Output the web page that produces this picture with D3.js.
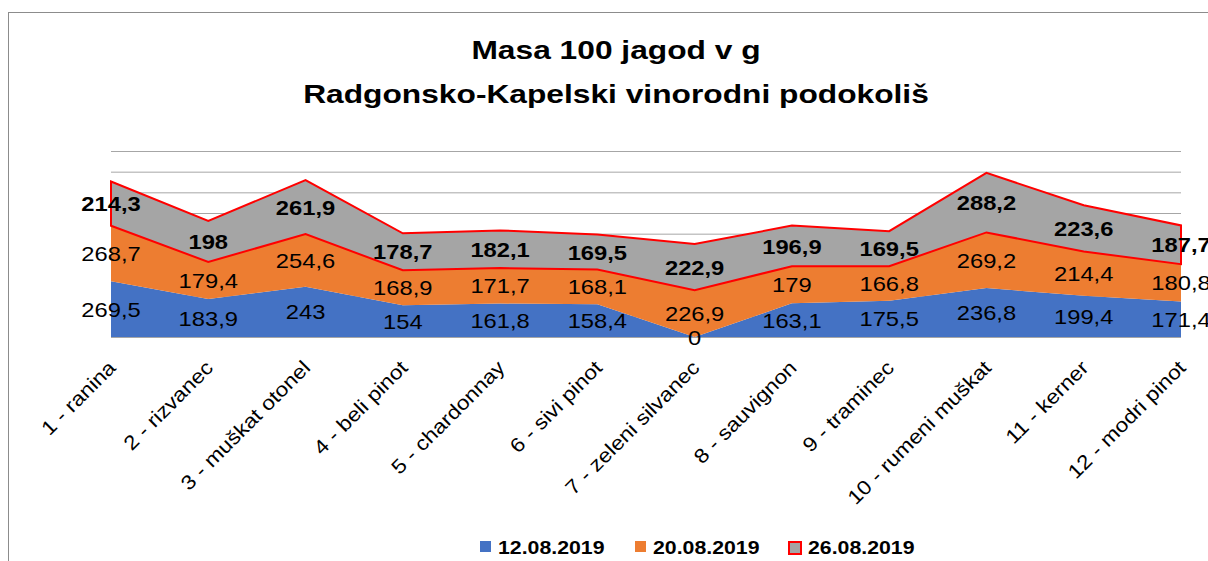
<!DOCTYPE html>
<html>
<head>
<meta charset="utf-8">
<script src="https://cdn.jsdelivr.net/npm/d3@7"></script>
<style>
    body { margin: 0; background: #fff; }
    text { font-family: "Liberation Sans", Arial, sans-serif; }
</style>
</head>
<body>
<div id="chart"></div>
<script>
var categories = ['1 - ranina', '2 - rizvanec', '3 - muškat otonel', '4 - beli pinot', '5 - chardonnay',
    '6 - sivi pinot', '7 - zeleni silvanec', '8 - sauvignon', '9 - traminec', '10 - rumeni muškat',
    '11 - kerner', '12 - modri pinot']
var seriesNames = ['12.08.2019', '20.08.2019', '26.08.2019']
var s1208 = [269.5, 183.9, 243, 154, 161.8, 158.4, 0, 163.1, 175.5, 236.8, 199.4, 171.4]
var s2008 = [268.7, 179.4, 254.6, 168.9, 171.7, 168.1, 226.9, 179, 166.8, 269.2, 214.4, 180.8]
var s2608 = [214.3, 198, 261.9, 178.7, 182.1, 169.5, 222.9, 196.9, 169.5, 288.2, 223.6, 187.7]
var yTicks = [0, 100, 200, 300, 400, 500, 600, 700, 800, 900]
var titleLines = ['Masa 100 jagod v g', 'Radgonsko-Kapelski vinorodni podokoliš']

var W = 1208, H = 561
var colors = ['#4472C4', '#ED7D31', '#A5A5A5']

// stretch text a bit, the original font is wider than Liberation
function widen(sel, k) {
    sel.each(function() {
        var w = this.getComputedTextLength()
        d3.select(this).attr('textLength', w * k).attr('lengthAdjust', 'spacingAndGlyphs')
    })
}

var svg = d3.select('#chart').append('svg')
    .attr('width', W)
    .attr('height', H)

svg.append('rect')
    .attr('x', 8.5).attr('y', 12.5)
    .attr('width', W + 20).attr('height', H + 20)
    .attr('fill', '#fff')
    .attr('stroke', '#8c8c8c')

var title = svg.append('g').attr('font-weight', 'bold').attr('text-anchor', 'middle')
title.selectAll('text')
    .data(titleLines)
    .enter().append('text')
    .attr('x', 616)
    .attr('y', (d, i) => 59 + i * 44)
    .attr('font-size', 26)
    .attr('fill', '#000')
    .text(d => d)
    .call(widen, 1.22)

var x = d3.scalePoint().domain(categories).range([111, 1181])
var y = d3.scaleLinear().domain([0, 900]).range([337, 151])

// gridlines
svg.append('g')
    .selectAll('line')
    .data(yTicks)
    .enter().append('line')
    .attr('x1', 111).attr('x2', 1181)
    .attr('y1', d => y(d) + 0.5).attr('y2', d => y(d) + 0.5)
    .attr('stroke', '#a6a6a6')
    .attr('stroke-width', 1)

var rows = categories.map((c, i) => ({ cat: c, a: s1208[i], b: s2008[i], c: s2608[i] }))
var keys = ['a', 'b', 'c']
var stacked = d3.stack().keys(keys)(rows)

var area = d3.area()
    .x(d => x(d.data.cat))
    .y0(d => y(d[0]))
    .y1(d => y(d[1]))

svg.append('g')
    .selectAll('path')
    .data(stacked)
    .enter().append('path')
    .attr('d', d => area(d) + 'Z')
    .attr('fill', (d, i) => colors[i])
    .attr('stroke', (d, i) => i === 2 ? '#FF0000' : 'none')
    .attr('stroke-width', 2)
    .attr('stroke-linejoin', 'miter')

// data labels, centred in each band
var labels = svg.append('g').attr('text-anchor', 'middle').attr('fill', '#000')
stacked.forEach((layer, li) => {
    labels.append('g')
        .attr('font-weight', li === 2 ? 'bold' : 'normal')
        .selectAll('text')
        .data(layer)
        .enter().append('text')
        .attr('x', d => x(d.data.cat))
        .attr('y', d => y((d[0] + d[1]) / 2))
        .attr('dy', '0.36em')
        .attr('font-size', 21)
        .text(d => String(d.data[keys[li]]).replace('.', ','))
        .call(widen, 1.13)
})

// category labels, rotated
svg.append('g')
    .selectAll('text')
    .data(categories)
    .enter().append('text')
    .attr('text-anchor', 'end')
    .attr('font-size', 20)
    .attr('fill', '#000')
    .attr('transform', d => `translate(${x(d) + 6}, 369) rotate(-45)`)
    .text(d => d)
    .call(widen, 1.13)

// legend
var legendX = [480, 635, 788]
var legend = svg.append('g')
    .selectAll('g')
    .data(seriesNames)
    .enter().append('g')
    .attr('transform', (d, i) => `translate(${legendX[i]}, 547)`)

legend.append('rect')
    .attr('x', (d, i) => i === 2 ? 1 : 0)
    .attr('y', (d, i) => i === 2 ? -5 : -6)
    .attr('width', (d, i) => i === 2 ? 12 : 11)
    .attr('height', (d, i) => i === 2 ? 12 : 11)
    .attr('fill', (d, i) => colors[i])
    .attr('stroke', (d, i) => i === 2 ? '#FF0000' : 'none')
    .attr('stroke-width', 2)

legend.append('text')
    .attr('x', (d, i) => i === 2 ? 20 : 18)
    .attr('y', 0)
    .attr('dy', '0.36em')
    .attr('font-size', 19)
    .attr('font-weight', 'bold')
    .attr('fill', '#000')
    .text(d => d)
    .call(widen, 1.12)
</script>
</body>
</html>
